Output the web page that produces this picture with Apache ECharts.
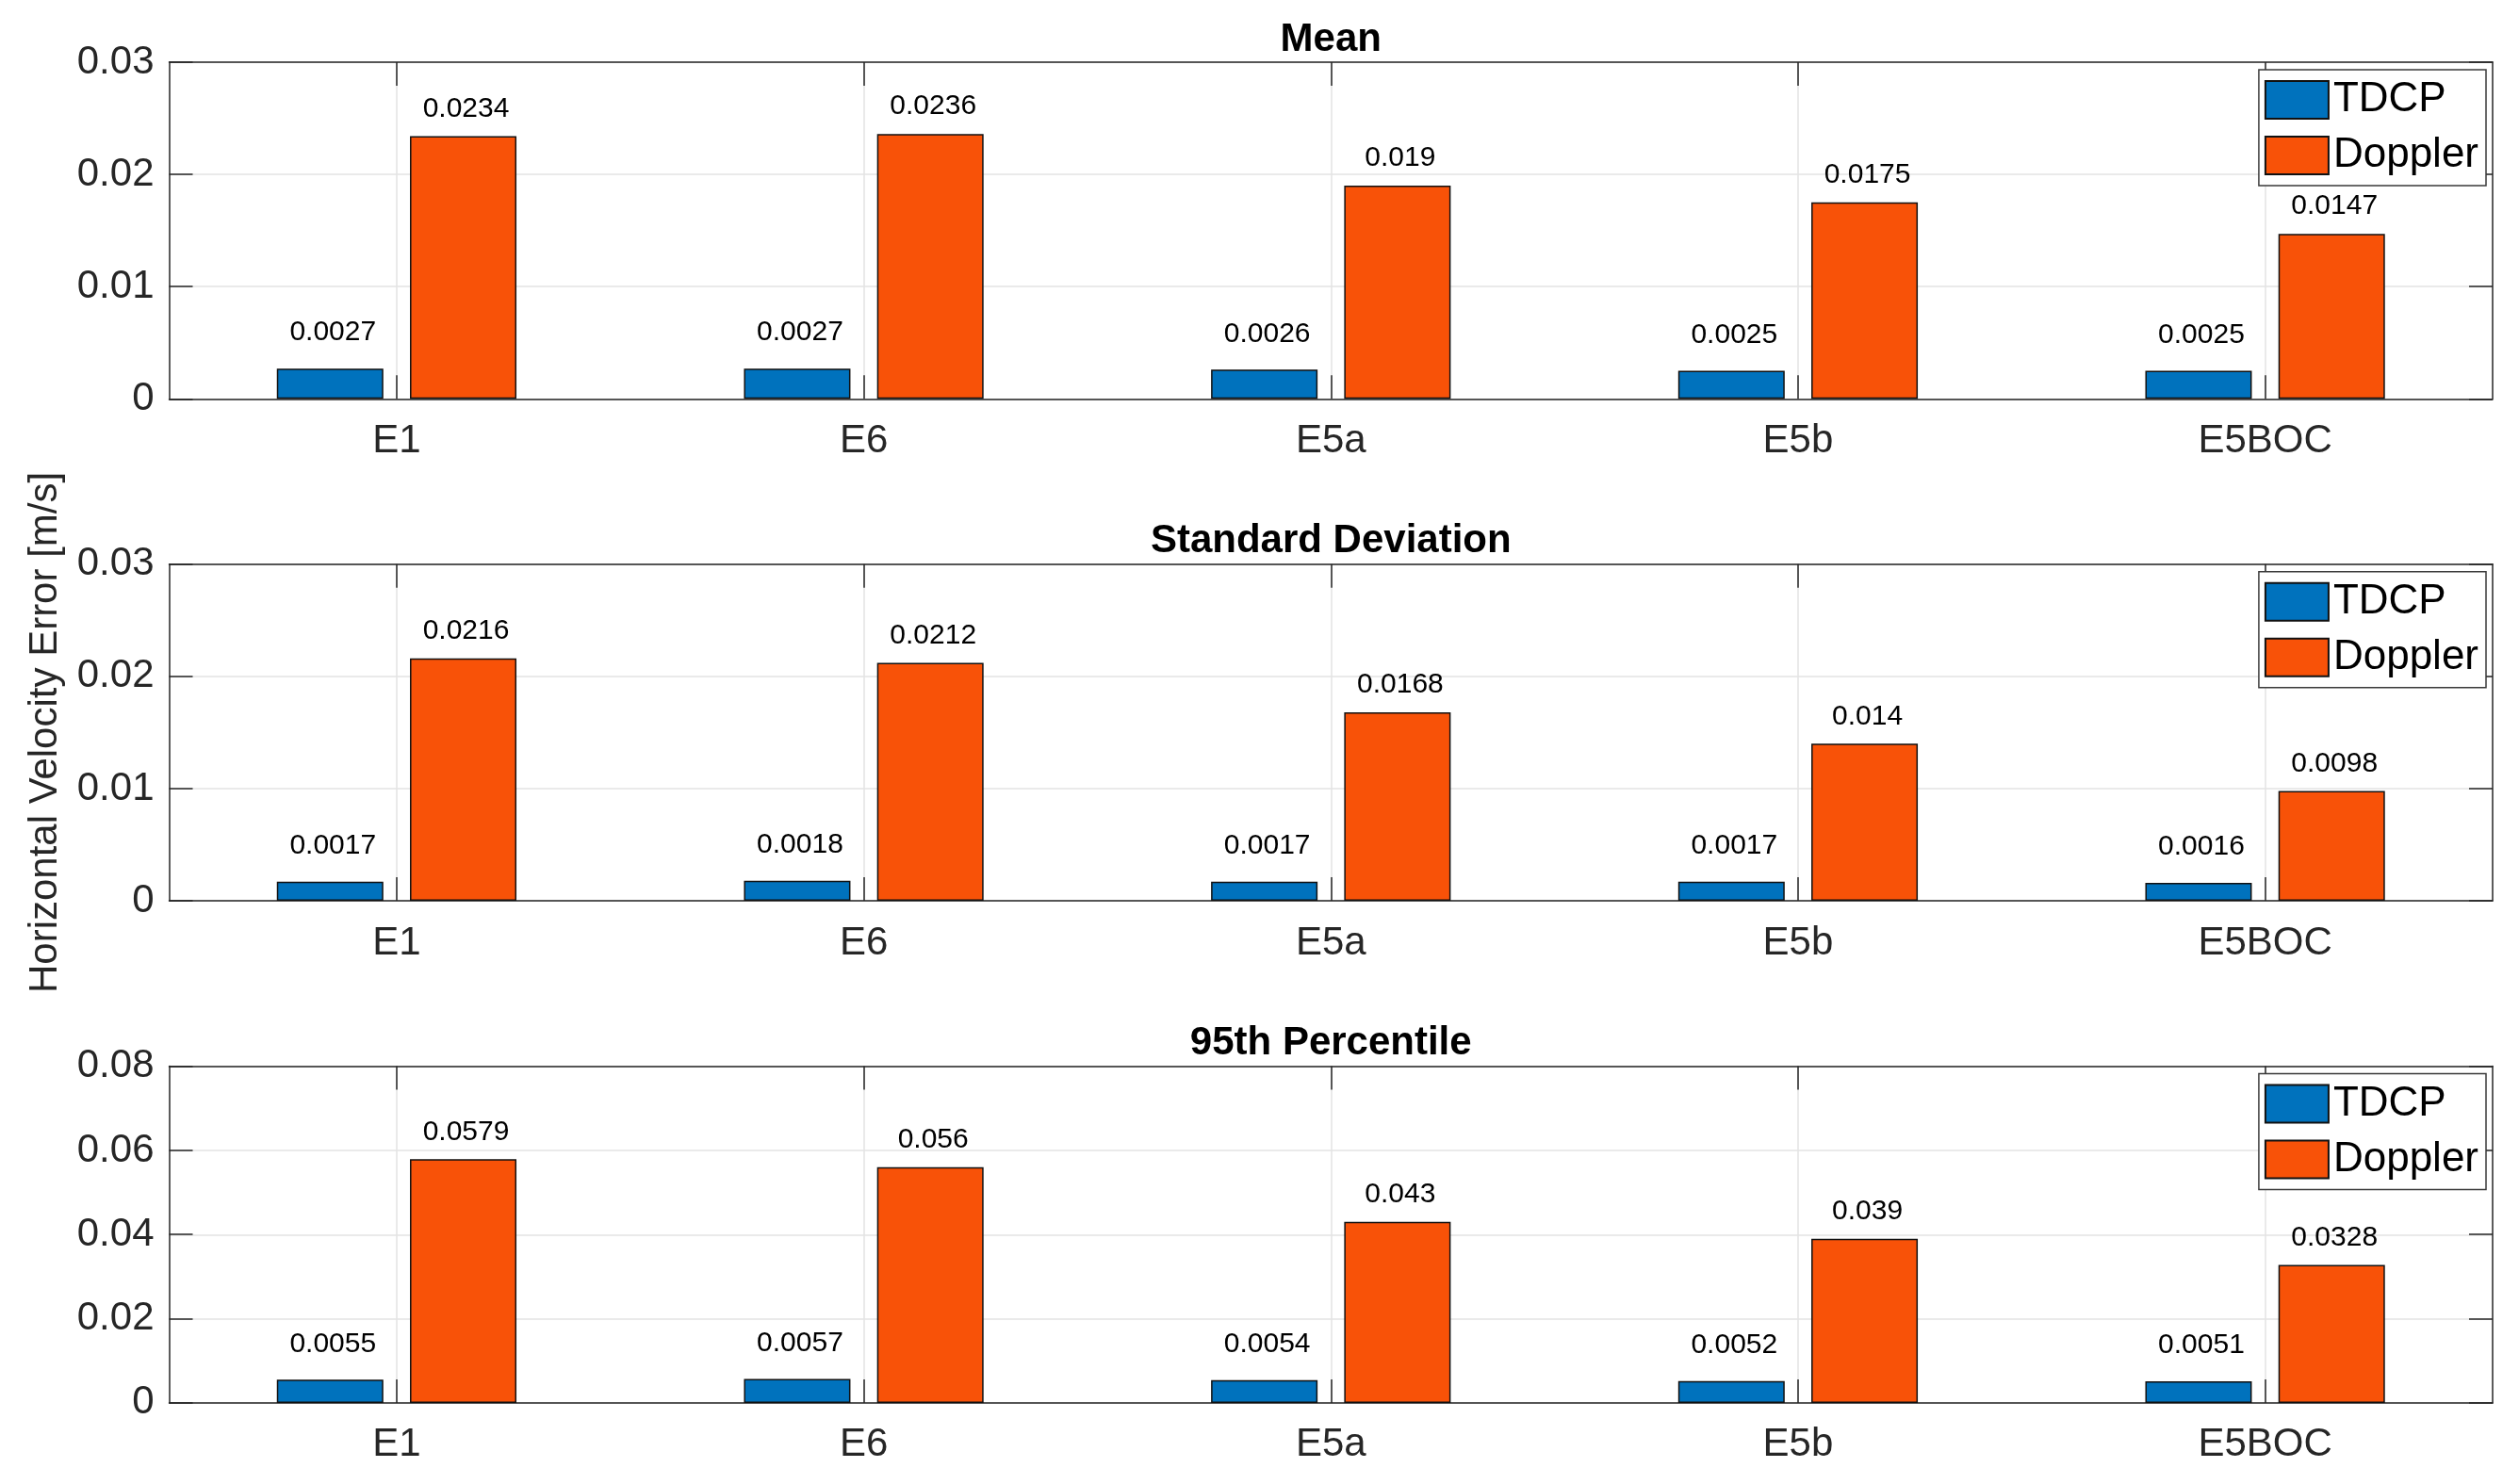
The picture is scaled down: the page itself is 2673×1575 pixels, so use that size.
<!DOCTYPE html>
<html>
<head>
<meta charset="utf-8">
<script src="https://cdn.jsdelivr.net/npm/echarts@6/dist/echarts.min.js"></script>
<style>
html,body{margin:0;padding:0;background:#fff;}
#chart{width:2673px;height:1575px;}
</style>
</head>
<body>
<div id="chart"></div>
<script>
// ---- data ----
const categories = ['E1', 'E6', 'E5a', 'E5b', 'E5BOC'];
const seriesNames = ['TDCP', 'Doppler'];
const panelTitles = ['Mean', 'Standard Deviation', '95th Percentile'];
const meanTDCP = [0.0027, 0.0027, 0.0026, 0.0025, 0.0025];
const meanDoppler = [0.0234, 0.0236, 0.019, 0.0175, 0.0147];
const stdTDCP = [0.0017, 0.0018, 0.0017, 0.0017, 0.0016];
const stdDoppler = [0.0216, 0.0212, 0.0168, 0.014, 0.0098];
const p95TDCP = [0.0055, 0.0057, 0.0054, 0.0052, 0.0051];
const p95Doppler = [0.0579, 0.056, 0.043, 0.039, 0.0328];
const yMaxes = [0.03, 0.03, 0.08];
const yIntervals = [0.01, 0.01, 0.02];
const yAxisTitle = 'Horizontal Velocity Error [m/s]';

const panelData = [[meanTDCP, meanDoppler], [stdTDCP, stdDoppler], [p95TDCP, p95Doppler]];

// ---- layout / style ----
const FONT = '"Liberation Sans", Arial, Helvetica, sans-serif';
const AX = '#262626';
const GRIDC = '#e3e3e3';
const colors = ['#0072BD', '#F85208'];
const labelDist = [23, 14];
const plotLeft = 179.5, plotRight = 2645;
const panelTop0 = 66, panelStep = 532.8, panelH = 357.3;
const xMin = -0.487, xMax = 4.487;
const tickVals = categories.map((c, i) => i);

const grids = [], xAxes = [], yAxes = [], series = [], legends = [], graphics = [];
const fmtY = v => String(+v.toFixed(4));

for (let p = 0; p < 3; p++) {
  const top = panelTop0 + p * panelStep;
  grids.push({left: plotLeft, width: plotRight - plotLeft, top: top, height: panelH, containLabel: false});
  // bottom x axis
  xAxes.push({
    type: 'value', gridIndex: p, min: xMin, max: xMax, position: 'bottom',
    axisLine: {show: true, onZero: false, lineStyle: {color: AX, width: 1.5}},
    axisTick: {show: true, inside: true, length: 25, customValues: tickVals, lineStyle: {color: AX, width: 1.5}},
    axisLabel: {show: true, customValues: tickVals, margin: 24, fontSize: 42, fontFamily: FONT, color: AX,
      formatter: v => categories[Math.round(v)]},
    splitLine: {show: true, lineStyle: {color: GRIDC, width: 1.5}}
  });
  // top x axis (box)
  xAxes.push({
    type: 'value', gridIndex: p, min: xMin, max: xMax, position: 'top',
    axisLine: {show: true, onZero: false, lineStyle: {color: AX, width: 1.5}},
    axisTick: {show: true, inside: true, length: 25, customValues: tickVals, lineStyle: {color: AX, width: 1.5}},
    axisLabel: {show: false},
    splitLine: {show: false}
  });
  // left y axis
  yAxes.push({
    type: 'value', gridIndex: p, min: 0, max: yMaxes[p], interval: yIntervals[p], position: 'left',
    axisLine: {show: true, onZero: false, lineStyle: {color: AX, width: 1.5}},
    axisTick: {show: true, inside: true, length: 25, lineStyle: {color: AX, width: 1.5}},
    axisLabel: {show: true, margin: 16, fontSize: 42, fontFamily: FONT, color: AX, formatter: fmtY},
    splitLine: {show: true, lineStyle: {color: GRIDC, width: 1.5}}
  });
  // right y axis (box)
  yAxes.push({
    type: 'value', gridIndex: p, min: 0, max: yMaxes[p], interval: yIntervals[p], position: 'right',
    axisLine: {show: true, onZero: false, lineStyle: {color: AX, width: 1.5}},
    axisTick: {show: true, inside: true, length: 25, lineStyle: {color: AX, width: 1.5}},
    axisLabel: {show: false},
    splitLine: {show: false}
  });
  for (let s = 0; s < 2; s++) {
    series.push({
      name: seriesNames[s], type: 'bar', xAxisIndex: 2 * p, yAxisIndex: 2 * p,
      barWidth: 113, barGap: '25%',
      itemStyle: {color: colors[s], borderColor: '#111', borderWidth: 1.5},
      label: {show: true, position: 'top', distance: labelDist[s], offset: [3, 0], fontSize: 30, fontFamily: FONT, color: '#000',
        formatter: prm => String(prm.value[1])},
      data: panelData[p][s].map((v, i) => [i, v]),
      animation: false
    });
  }
  legends.push({
    orient: 'vertical', right: 35, top: top + 8,
    data: seriesNames, icon: 'rect',
    itemWidth: 67, itemHeight: 40, itemGap: 15,
    padding: [10, 8, 10, 6],
    backgroundColor: '#fff', borderColor: '#3a3a3a', borderWidth: 1.5,
    textStyle: {fontSize: 44, fontFamily: FONT, color: '#000'},
    selectedMode: false
  });
  graphics.push({
    type: 'text', x: (plotLeft + plotRight) / 2, y: top - 24,
    style: {text: panelTitles[p], font: 'bold 42px ' + FONT, fill: '#000', textAlign: 'center', textVerticalAlign: 'middle'}
  });
}
graphics.push({
  type: 'text', x: 48, y: panelTop0 + panelStep + panelH / 2, rotation: Math.PI / 2,
  style: {text: yAxisTitle, font: '42px ' + FONT, fill: AX, textAlign: 'center', textVerticalAlign: 'middle'}
});

const chart = echarts.init(document.getElementById('chart'));
chart.setOption({
  backgroundColor: '#fff',
  animation: false,
  grid: grids, xAxis: xAxes, yAxis: yAxes, series: series, legend: legends,
  graphic: graphics
});
</script>
</body>
</html>
